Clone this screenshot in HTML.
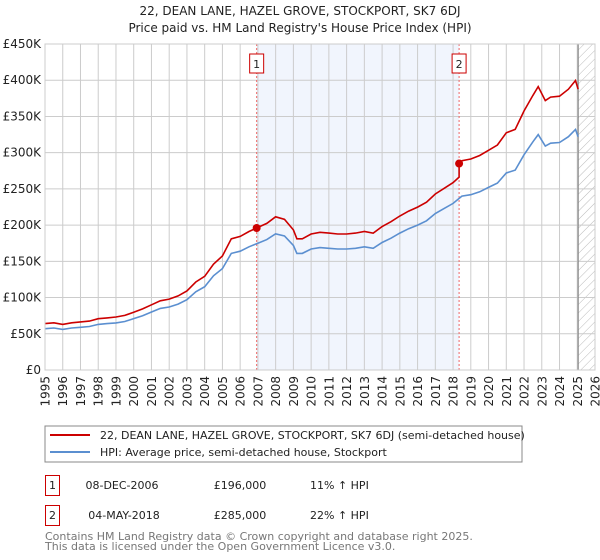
<!DOCTYPE html>
<html><head><meta charset="utf-8"><style>
body{margin:0;background:#fff;font-family:"Liberation Sans","DejaVu Sans",sans-serif;}
svg{display:block}
</style></head><body>
<svg id="c" width="600" height="560" xmlns="http://www.w3.org/2000/svg" font-family="DejaVu Sans, Liberation Sans, sans-serif">
<text x="300" y="15" text-anchor="middle" font-size="12" fill="#222">22, DEAN LANE, HAZEL GROVE, STOCKPORT, SK7 6DJ</text>
<text x="300" y="32" text-anchor="middle" font-size="12" fill="#222">Price paid vs. HM Land Registry's House Price Index (HPI)</text>
<g id="plot"></g>
<g>
<rect x="45" y="426" width="477" height="36" fill="#fff" stroke="#888"/>
<line x1="50" y1="435" x2="90" y2="435" stroke="#cc0000" stroke-width="2"/>
<text x="100" y="439" font-size="11" fill="#222">22, DEAN LANE, HAZEL GROVE, STOCKPORT, SK7 6DJ (semi-detached house)</text>
<line x1="50" y1="452" x2="90" y2="452" stroke="#5b8fd0" stroke-width="2"/>
<text x="100" y="456" font-size="11" fill="#222">HPI: Average price, semi-detached house, Stockport</text>
</g>
<g font-size="11" fill="#222">
<rect x="45.5" y="475.5" width="14" height="20" fill="none" stroke="#cc0000"/>
<text x="52.5" y="489" text-anchor="middle">1</text>
<text x="122" y="489" text-anchor="middle">08-DEC-2006</text>
<text x="240" y="489" text-anchor="middle">£196,000</text>
<text x="310" y="489">11% ↑ HPI</text>
<rect x="45.5" y="505.5" width="14" height="20" fill="none" stroke="#cc0000"/>
<text x="52.5" y="519" text-anchor="middle">2</text>
<text x="124" y="519" text-anchor="middle">04-MAY-2018</text>
<text x="240" y="519" text-anchor="middle">£285,000</text>
<text x="310" y="519">22% ↑ HPI</text>
</g>
<text x="45" y="540" font-size="11" fill="#777">Contains HM Land Registry data © Crown copyright and database right 2025.</text>
<text x="45" y="550" font-size="11" fill="#777">This data is licensed under the Open Government Licence v3.0.</text>
</svg>
<script>
const hpiYears=[1995,1995.5,1996,1996.5,1997,1997.5,1998,1998.5,1999,1999.5,2000,2000.5,2001,2001.5,2002,2002.5,2003,2003.5,2004,2004.5,2005,2005.5,2006,2006.5,2007,2007.5,2008,2008.5,2009,2009.2,2009.5,2010,2010.5,2011,2011.5,2012,2012.5,2013,2013.5,2014,2014.5,2015,2015.5,2016,2016.5,2017,2017.5,2018,2018.5,2019,2019.5,2020,2020.5,2021,2021.5,2022,2022.5,2022.8,2023.2,2023.5,2024,2024.5,2024.9,2025.05];
const hpiValues=[57,58,56,58,59,60,63,64,65,67,71,75,80,85,87,91,97,108,115,130,140,161,164,170,175,180,188,185,172,161,161,167,169,168,167,167,168,170,168,176,182,189,195,200,206,216,223,230,240,242,246,252,258,272,276,297,315,325,309,313,314,322,332,322];
const saleYears=[2006.93,2018.34];
const salePrices=[196,285];
const yTicks=[0,50,100,150,200,250,300,350,400,450];
const yTickLabels=["£0","£50K","£100K","£150K","£200K","£250K","£300K","£350K","£400K","£450K"];
const xTicks=[1995,1996,1997,1998,1999,2000,2001,2002,2003,2004,2005,2006,2007,2008,2009,2010,2011,2012,2013,2014,2015,2016,2017,2018,2019,2020,2021,2022,2023,2024,2025,2026];

const L=45,R=595,T=44,B=370,X0=1995,X1=2026,YMAX=450;
const sx=y=>L+(y-X0)/(X1-X0)*(R-L);
const sy=v=>B-v/YMAX*(B-T);
const NS="http://www.w3.org/2000/svg";
const g=document.getElementById('plot');
function mk(t,a,p){const e=document.createElementNS(NS,t);for(const k in a)e.setAttribute(k,a[k]);(p||g).appendChild(e);return e;}
function hpiAt(y){for(let i=0;i<hpiYears.length-1;i++){if(y>=hpiYears[i]&&y<=hpiYears[i+1]){const f=(y-hpiYears[i])/(hpiYears[i+1]-hpiYears[i]);return hpiValues[i]+f*(hpiValues[i+1]-hpiValues[i]);}}return hpiValues[hpiValues.length-1];}

const shade=mk('rect',{x:sx(saleYears[0]),y:T,width:sx(saleYears[1])-sx(saleYears[0]),height:B-T,fill:'#f1f5fd'});


const defs=mk('defs',{});
const pat=mk('pattern',{id:'hatch',width:6,height:6,patternUnits:'userSpaceOnUse',patternTransform:'rotate(45)'},defs);
mk('line',{x1:0,y1:0,x2:0,y2:6,stroke:'#bbb','stroke-width':1},pat);
const lastY=hpiYears[hpiYears.length-1];
const hatch=mk('rect',{x:sx(lastY),y:T,width:R-sx(lastY),height:B-T,fill:'url(#hatch)'});



yTicks.forEach((v,i)=>{
 const ln=mk('line',{x1:L,x2:R,y1:sy(v),y2:sy(v),stroke:'#ccc','stroke-width':1});
 
 
 const t=mk('text',{x:L-4,y:sy(v)+4,'text-anchor':'end','font-size':12,fill:'#222'});
 t.textContent=yTickLabels[i];
 
 
});
xTicks.forEach(y=>{
 const ln=mk('line',{x1:sx(y),x2:sx(y),y1:T,y2:B,stroke:'#ccc','stroke-width':1});
 
 
 const t=mk('text',{x:0,y:0,'text-anchor':'end','font-size':12,fill:'#222',transform:`translate(${sx(y)+4.5},${B+6}) rotate(-90)`});
 t.textContent=y;
 
 
});
const vl=mk('line',{x1:sx(lastY),x2:sx(lastY),y1:T,y2:B,stroke:'#888','stroke-width':1.2});



saleYears.forEach((y,i)=>{
 const d=mk('line',{x1:sx(y),x2:sx(y),y1:T,y2:B,stroke:'#e66','stroke-width':1,'stroke-dasharray':'2,2'});
 
 
 const b=mk('rect',{x:sx(y)-7,y:54,width:14,height:19,fill:'#fff',stroke:'#cc0000'});
 
 
 const t=mk('text',{x:sx(y),y:68,'text-anchor':'middle','font-size':11,fill:'#222'});
 t.textContent=i+1;
 
 
});

const hp=hpiYears.map((y,i)=>sx(y).toFixed(1)+','+sy(hpiValues[i]).toFixed(1)).join(' ');
const hl=mk('polyline',{points:hp,fill:'none',stroke:'#5b8fd0','stroke-width':1.6});



const pts=[];
let jumped=false;
hpiYears.forEach((y,i)=>{
 let k=0;for(let s=0;s<saleYears.length;s++){if(y>=saleYears[s])k=s;}
 if(y>=saleYears[1]&&pts.length&&!jumped){const hb=hpiAt(saleYears[1]);pts.push([saleYears[1],salePrices[0]/hpiAt(saleYears[0])*hb]);pts.push([saleYears[1],salePrices[1]]);jumped=true;}
 const f=salePrices[k]/hpiAt(saleYears[k]);
 pts.push([y,hpiValues[i]*f]);
});
const pl=mk('polyline',{points:pts.map(p=>sx(p[0]).toFixed(1)+','+sy(p[1]).toFixed(1)).join(' '),fill:'none',stroke:'#cc0000','stroke-width':1.6});



saleYears.forEach((y,i)=>{
 const c=mk('circle',{cx:sx(y),cy:sy(salePrices[i]),r:4,fill:'#cc0000'});
 
 
});
const ax=mk('rect',{x:L,y:T,width:R-L,height:B-T,fill:'none',stroke:'#ccc'});


</script>
</body></html>
